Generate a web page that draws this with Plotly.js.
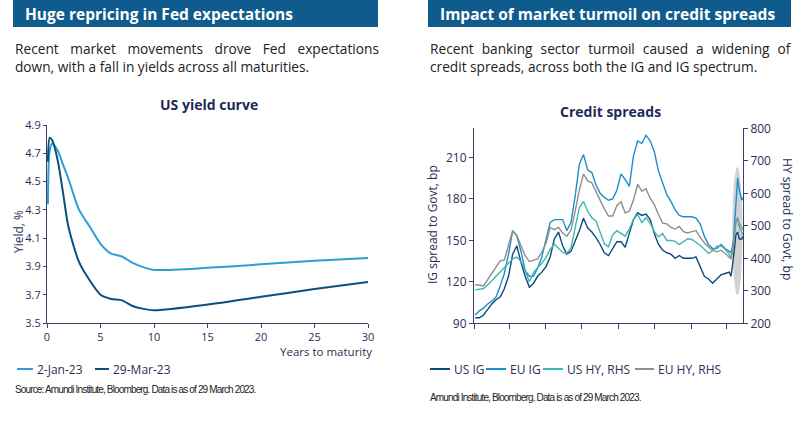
<!DOCTYPE html>
<html><head><meta charset="utf-8">
<script src="https://cdn.plot.ly/plotly-3.0.1.min.js"></script>
<style>html,body{margin:0;padding:0;background:#fff}#chart{width:800px;height:431px}</style>
</head><body><div id="chart"></div>
<script>
// ---------- Left chart: US yield curve ----------
const maturities = [0.083, 0.25, 0.5, 1, 1.5, 2, 3, 4, 5, 6, 7, 8, 9, 10, 15, 20, 25, 30];
const yieldJan23 = [4.34, 4.72, 4.77, 4.72, 4.62, 4.52, 4.30, 4.18, 4.06, 3.99, 3.97, 3.925, 3.895, 3.875, 3.89, 3.915, 3.94, 3.96];
const yieldMar23 = [4.64, 4.81, 4.79, 4.65, 4.42, 4.18, 3.93, 3.80, 3.70, 3.67, 3.66, 3.62, 3.60, 3.59, 3.63, 3.685, 3.74, 3.79];
const yieldSeriesNames = ['2-Jan-23', '29-Mar-23'];
const yieldTicks = [3.5, 3.7, 3.9, 4.1, 4.3, 4.5, 4.7, 4.9];
const maturityTicks = [0, 5, 10, 15, 20, 25, 30];

// ---------- Right chart: Credit spreads ----------
const spreadDates = ['2022-01-03','2022-01-10','2022-01-17','2022-01-24','2022-01-31','2022-02-07','2022-02-14','2022-02-21','2022-02-28','2022-03-07','2022-03-14','2022-03-21','2022-03-28','2022-04-04','2022-04-11','2022-04-18','2022-04-25','2022-05-02','2022-05-09','2022-05-16','2022-05-23','2022-05-30','2022-06-06','2022-06-13','2022-06-20','2022-06-27','2022-07-04','2022-07-11','2022-07-18','2022-07-25','2022-08-01','2022-08-08','2022-08-15','2022-08-22','2022-08-29','2022-09-05','2022-09-12','2022-09-19','2022-09-26','2022-10-03','2022-10-10','2022-10-17','2022-10-24','2022-10-31','2022-11-07','2022-11-14','2022-11-21','2022-11-28','2022-12-05','2022-12-12','2022-12-19','2022-12-26','2023-01-02','2023-01-09','2023-01-16','2023-01-23','2023-01-30','2023-02-06','2023-02-13','2023-02-20','2023-02-27','2023-03-06','2023-03-09','2023-03-13','2023-03-15','2023-03-17','2023-03-20','2023-03-23','2023-03-27','2023-03-29'];
const usIG = [94,94,96,100,104, 107,109,115,124, 140,146,134,124, 116,119,124,127, 131,138,151,156,146, 140,142,149,157, 166,159,156,152, 147,141,139,144,149, 149,145,155,165, 170,168,169,165,155, 147,143,141,140, 137,139,137,137, 137,138,131,124,122, 119,122,125,126, 127,124,136,145,154,156,151,151,153];
const euIG = [96,99,101,104,106, 109,117,126,140, 157,153,142,128, 124,124,130,138, 150,163,165,165,165, 157,163,182,205, 212,201,199,190, 184,181,179,180,186, 198,194,189,211, 222,220,226,222,214, 200,191,183,178, 172,168,167,167, 167,166,162,153,147, 144,144,147,144, 142,141,150,165,178,195,186,179,181];
const usHY = [303,305,307,318,332, 345,360,372,385, 398,404,390,362, 328,356,372,385, 402,428,444,432,418, 415,432,495,555, 575,545,525,515, 480,445,436,472,485, 476,468,490,520, 535,510,525,508,482, 466,476,455,455, 452,442,451,460, 458,450,440,428,415, 423,437,438,428, 412,400,450,490,512,526,495,480,472];
const euHY = [318,318,315,335,355, 372,392,395,440, 485,470,438,408, 390,394,398,420, 446,495,488,495,478, 468,487,545,610, 660,638,632,605, 578,552,530,530,562, 574,540,545,580, 628,606,614,585,565, 535,508,506,495, 490,498,482,478, 482,485,465,448,435, 425,420,425,415, 405,398,440,485,512,518,505,495,488];
const spreadNames = ['US IG', 'EU IG', 'US HY, RHS', 'EU HY, RHS'];
const igTicks = [90, 120, 150, 180, 210];
const hyTicks = [200, 300, 400, 500, 600, 700, 800];
const dateTickMarks = ['2022-01-01','2022-03-01','2022-05-01','2022-07-01','2022-09-01','2022-11-01','2023-01-01','2023-03-01'];
const dateLabelPos = ['2022-01-23','2022-04-20','2022-07-13','2022-10-02','2022-12-21','2023-03-12'];
const dateLabels = ['Jan-22','April-22','Jul-22','Oct-22','Jan-23','Mar-23'];
const highlight = {x0: '2023-03-11', x1: '2023-03-28', y0: 110.5, y1: 203};

// ---------- styling ----------
const W = 800, H = 431;
const px = v => v / W, py = v => (H - v) / H;
const C = {
  banner: '#0f5b8d', navy: '#1c2a56', tick: '#2b2f55', axis: '#3b4164', body: '#222222',
  light: '#2f9fd3', dark: '#0b4f7e',
  usIG: '#0c4a78', euIG: '#1d8fcb', usHY: '#3db7b4', euHY: '#8e8e8e'
};
const FONT = 'Open Sans, Noto Sans, sans-serif';
const SRC = 'Liberation Sans, Arial, sans-serif';
const tfL = {family: FONT, size: 11, color: C.tick};
const tfR = {family: FONT, size: 12, color: C.tick};

const traces = [
  {x: maturities, y: yieldJan23, name: yieldSeriesNames[0], type: 'scatter', mode: 'lines', xaxis: 'x', yaxis: 'y',
   line: {color: C.light, width: 2, shape: 'spline', smoothing: 0.7}},
  {x: maturities, y: yieldMar23, name: yieldSeriesNames[1], type: 'scatter', mode: 'lines', xaxis: 'x', yaxis: 'y',
   line: {color: C.dark, width: 2, shape: 'spline', smoothing: 0.7}},
  {x: spreadDates, y: usIG, name: spreadNames[0], type: 'scatter', mode: 'lines', xaxis: 'x2', yaxis: 'y3', line: {color: C.usIG, width: 1.4}},
  {x: spreadDates, y: euIG, name: spreadNames[1], type: 'scatter', mode: 'lines', xaxis: 'x2', yaxis: 'y3', line: {color: C.euIG, width: 1.4}},
  {x: spreadDates, y: usHY, name: spreadNames[2], type: 'scatter', mode: 'lines', xaxis: 'x2', yaxis: 'y4', line: {color: C.usHY, width: 1.4}},
  {x: spreadDates, y: euHY, name: spreadNames[3], type: 'scatter', mode: 'lines', xaxis: 'x2', yaxis: 'y4', line: {color: C.euHY, width: 1.4}}
];

const axBase = {showgrid: false, zeroline: false, showline: true, linecolor: C.axis, linewidth: 1,
  ticks: 'outside', ticklen: 4, tickcolor: C.axis, tickfont: tfR, fixedrange: true};

const shapes = [
  {type: 'rect', xref: 'paper', yref: 'paper', x0: px(13), x1: px(378), y0: py(27), y1: py(0), fillcolor: C.banner, line: {width: 0}},
  {type: 'rect', xref: 'paper', yref: 'paper', x0: px(428), x1: px(791), y0: py(27), y1: py(0), fillcolor: C.banner, line: {width: 0}},
  {type: 'circle', xref: 'x2', yref: 'y3', x0: highlight.x0, x1: highlight.x1, y0: highlight.y0, y1: highlight.y1,
   fillcolor: 'rgba(205,205,205,0.9)', line: {width: 0}, layer: 'below'}
];
// legend samples
const legendSamples = [
  [17, 33, C.light], [95, 109, C.dark],
  [430, 450, C.usIG], [486, 506, C.euIG], [543, 563, C.usHY], [635, 654, C.euHY]
];
legendSamples.forEach(s => shapes.push({type: 'line', xref: 'paper', yref: 'paper', x0: px(s[0]), x1: px(s[1]), y0: py(369), y1: py(369), line: {color: s[2], width: 2}}));

const ann = (text, x, y, opts) => Object.assign({text, x: px(x), y: py(y), xref: 'paper', yref: 'paper', showarrow: false,
  xanchor: 'left', yanchor: 'middle', font: {family: FONT, size: 12, color: C.tick}}, opts || {});

const annotations = [
  ann('<b>Huge repricing in Fed expectations</b>', 23, 14, {font: {family: FONT, size: 15.5, color: '#ffffff'}}),
  ann('<b>Impact of market turmoil on credit spreads</b>', 438, 14, {font: {family: FONT, size: 15.5, color: '#ffffff'}}),
  ann('<span style="word-spacing:8px">Recent market movements drove Fed expectations</span>', 13, 48, {font: {family: FONT, size: 13.7, color: C.body}}),
  ann('down, with a fall in yields across all maturities.', 13, 67, {font: {family: FONT, size: 13.7, color: C.body}}),
  ann('<span style="word-spacing:4.5px">Recent banking sector turmoil caused a widening of</span>', 428, 48, {font: {family: FONT, size: 13.7, color: C.body}}),
  ann('credit spreads, across both the IG and IG spectrum.', 428, 67, {font: {family: FONT, size: 13.7, color: C.body}}),
  ann('<b>US yield curve</b>', 209, 105, {xanchor: 'center', font: {family: FONT, size: 14, color: C.navy}}),
  ann('<b>Credit spreads</b>', 610, 111, {xanchor: 'center', font: {family: FONT, size: 14, color: C.navy}}),
  ann('Yield, %', 18, 232, {xanchor: 'center', textangle: -90}),
  ann('Years to maturity', 374, 351, {xanchor: 'right', font: {family: FONT, size: 11.5, color: C.tick}}),
  ann('IG spread to Govt, bp', 433, 225, {xanchor: 'center', textangle: -90}),
  ann('HY spread to Govt, bp', 787, 219, {xanchor: 'center', textangle: 90}),
  ann(yieldSeriesNames[0], 35, 369),
  ann(yieldSeriesNames[1], 111, 369),
  ann(spreadNames[0], 452, 369),
  ann(spreadNames[1], 508, 369),
  ann(spreadNames[2], 565, 369),
  ann(spreadNames[3], 656, 369),
  ann('<span style="letter-spacing:-0.85px">Source: Amundi Institute, Bloomberg. Data is as of 29 March 2023.</span>', 13, 389, {font: {family: SRC, size: 10, color: C.body}}),
  ann('<span style="letter-spacing:-0.85px">Amundi Institute, Bloomberg. Data is as of 29 March 2023.</span>', 428, 397, {font: {family: SRC, size: 10, color: C.body}})
];

const layout = {
  width: W, height: H, margin: {l: 0, r: 0, t: 0, b: 0}, showlegend: false,
  paper_bgcolor: '#ffffff', plot_bgcolor: 'rgba(0,0,0,0)', font: {family: FONT, color: C.tick},
  xaxis: Object.assign({}, axBase, {domain: [px(47), px(368)], anchor: 'y', range: [0, 30], tickvals: maturityTicks, tickfont: tfL}),
  yaxis: Object.assign({}, axBase, {domain: [py(323), py(125)], anchor: 'x', range: [3.5, 4.9], tickvals: yieldTicks, tickformat: '.1f', tickfont: tfL, ticklen: 3}),
  xaxis2: Object.assign({}, axBase, {domain: [px(474), px(743)], anchor: 'y3', type: 'date',
    range: ['2022-01-01', '2023-03-29'], tickvals: dateTickMarks, showticklabels: false, ticklen: 5}),
  xaxis3: {domain: [px(474), px(743)], anchor: 'y3', overlaying: 'x2', type: 'date', range: ['2022-01-01', '2023-03-29'],
    tickvals: dateLabelPos, ticktext: dateLabels, ticks: '', showline: false, showgrid: false, zeroline: false,
    tickfont: tfR, ticklabelstandoff: 5, fixedrange: true},
  yaxis3: Object.assign({}, axBase, {domain: [py(323.3), py(128.3)], anchor: 'x2', range: [90, 231], tickvals: igTicks}),
  yaxis4: Object.assign({}, axBase, {domain: [py(323.3), py(128.3)], anchor: 'x2', overlaying: 'y3', side: 'right',
    range: [200, 800], tickvals: hyTicks}),
  shapes, annotations
};

Plotly.newPlot('chart', traces, layout, {staticPlot: true, displayModeBar: false});
</script></body></html>
